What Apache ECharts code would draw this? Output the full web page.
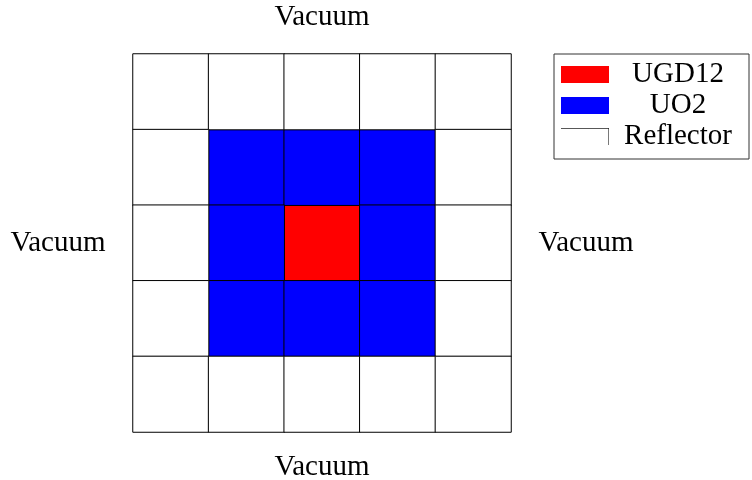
<!DOCTYPE html>
<html>
<head>
<meta charset="utf-8">
<script src="https://cdn.jsdelivr.net/npm/echarts@6/dist/echarts.min.js"></script>
<style>html,body{margin:0;padding:0;background:#fff;}#c{width:752px;height:480px;}</style>
</head>
<body>
<div id="c"></div>
<script>
const columns = ['1', '2', '3', '4', '5'];
const rows = ['1', '2', '3', '4', '5'];
const materials = ['UGD12', 'UO2', 'Reflector'];
const materialColors = ['#ff0000', '#0000ff', '#ffffff'];
const layoutRows = [
  ['Reflector', 'Reflector', 'Reflector', 'Reflector', 'Reflector'],
  ['Reflector', 'UO2', 'UO2', 'UO2', 'Reflector'],
  ['Reflector', 'UO2', 'UGD12', 'UO2', 'Reflector'],
  ['Reflector', 'UO2', 'UO2', 'UO2', 'Reflector'],
  ['Reflector', 'Reflector', 'Reflector', 'Reflector', 'Reflector']
];
const boundaryLabel = 'Vacuum';

const font = '"Liberation Serif", "DejaVu Serif", serif';
const fs = 29;
const chart = echarts.init(document.getElementById('c'), null, {renderer: 'canvas'});

const series = materials.map((m, mi) => {
  const data = [];
  layoutRows.forEach((row, ri) => {
    row.forEach((cell, ci) => {
      if (cell === m) data.push([ci, ri, mi]);
    });
  });
  return {
    name: m,
    type: 'heatmap',
    data: data,
    itemStyle: {color: materialColors[mi], borderColor: '#000', borderWidth: 1},
    emphasis: {disabled: true},
    silent: true
  };
});

chart.setOption({
  animation: false,
  backgroundColor: '#fff',
  grid: {left: 133, top: 54, width: 378, height: 378, show: false},
  xAxis: {type: 'category', data: columns, show: false},
  yAxis: {type: 'category', data: rows, inverse: true, show: false},
  legend: {
    orient: 'vertical',
    left: 554,
    top: 54,
    width: 196,
    padding: [6, 7, 8, 7],
    itemGap: 2,
    itemWidth: 48,
    itemHeight: 17,
    borderColor: '#333',
    borderWidth: 1,
    selectedMode: false,
    data: [
      {name: 'UGD12', icon: 'rect', itemStyle: {color: '#ff0000', borderWidth: 0}},
      {name: 'UO2', icon: 'rect', itemStyle: {color: '#0000ff', borderWidth: 0}},
      {name: 'Reflector', icon: 'path://M0,0H48V17H47.4V0.8H0Z', itemStyle: {color: '#222', borderWidth: 0}}
    ],
    formatter: '{t|{name}}',
    textStyle: {
      fontFamily: font,
      fontSize: fs,
      color: '#000',
      rich: {t: {fontFamily: font, fontSize: fs, color: '#000', width: 128, align: 'center', lineHeight: 30}}
    }
  },
  graphic: [
    {type: 'text', style: {text: boundaryLabel, font: fs + 'px ' + font, fill: '#000', x: 322, y: 17, align: 'center', verticalAlign: 'middle'}},
    {type: 'text', style: {text: boundaryLabel, font: fs + 'px ' + font, fill: '#000', x: 322, y: 467, align: 'center', verticalAlign: 'middle'}},
    {type: 'text', style: {text: boundaryLabel, font: fs + 'px ' + font, fill: '#000', x: 58, y: 243, align: 'center', verticalAlign: 'middle'}},
    {type: 'text', style: {text: boundaryLabel, font: fs + 'px ' + font, fill: '#000', x: 586, y: 243, align: 'center', verticalAlign: 'middle'}}
  ],
  series: series
});
</script>
</body>
</html>
